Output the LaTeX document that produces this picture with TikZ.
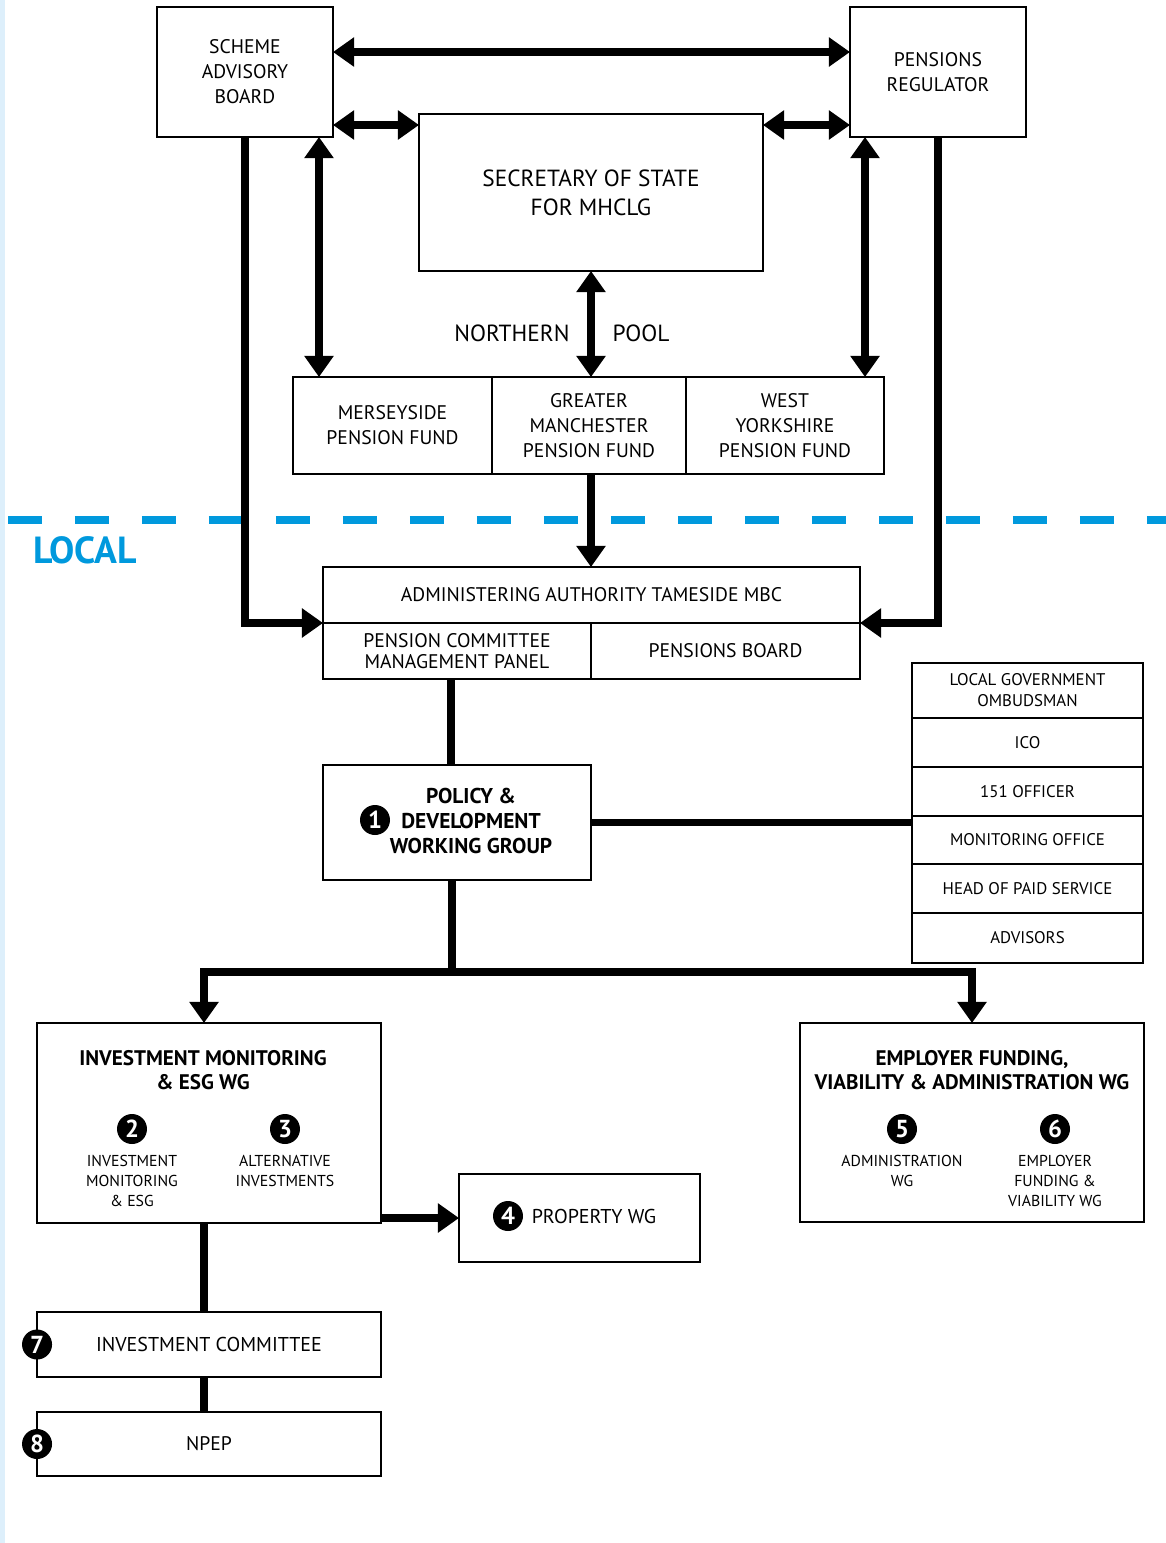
\documentclass[tikz,border=0pt]{standalone}
\usepackage{fontspec}
\setmainfont{PT Sans}
\usetikzlibrary{arrows.meta}
\definecolor{localblue}{RGB}{0,153,221}
\definecolor{edgeblue}{RGB}{221,239,251}
\begin{document}
\begin{tikzpicture}[%
      x=0.02cm, y=-0.02cm,
      box/.style={%
        draw          = black,
        line width    = 1.1pt,
        inner sep     = 0pt,
        outer sep     = 0pt,
        align         = center,
        font          = \fontsize{11.2}{14.2}\selectfont,
      },
      bigtext/.style={font=\fontsize{13.3}{16.4}\selectfont},
      sidetext/.style={font=\fontsize{9.6}{11.9}\selectfont},
      headtext/.style={align=center, font=\fontsize{12}{14}\selectfont\bfseries},
      subtext/.style={align=center, font=\fontsize{9}{11.3}\selectfont},
      num/.style={%
        circle,
        fill          = black,
        text          = white,
        minimum size  = 0.6cm,
        inner sep     = 0pt,
        font          = \fontsize{14}{14}\selectfont\bfseries,
      },
      link/.style={line width=4.3pt},
      arrow/.style={line width=4.3pt, -{Triangle[length=12pt,width=16pt]}},
      dblarrow/.style={line width=4.3pt, {Triangle[length=12pt,width=16pt]}-{Triangle[length=12pt,width=16pt]}},
      ]

      \useasboundingbox (0,0) rectangle (1166,1543);
      \fill[edgeblue] (0,0) rectangle (5,1543);

      \node[box, minimum width=3.52cm, minimum height=2.6cm] (SAB) at (245,72) {SCHEME \\ ADVISORY \\ BOARD};
      \node[box, minimum width=3.52cm, minimum height=2.6cm] (PR) at (938,72) {PENSIONS \\ REGULATOR};
      \node[box, bigtext, minimum width=6.88cm, minimum height=3.14cm] (SoS) at (591,192.5) {SECRETARY OF STATE \\ FOR MHCLG};

      \node[bigtext] (Northern) at (512,333) {NORTHERN};
      \node[bigtext] (Pool) at (641,333) {POOL};

      \node[box, minimum width=3.98cm, minimum height=1.94cm] (Mers) at (392.5,425.5) {MERSEYSIDE \\ PENSION FUND};
      \node[box, minimum width=3.88cm, minimum height=1.94cm] (GM) at (589,425.5) {GREATER \\ MANCHESTER \\ PENSION FUND};
      \node[box, minimum width=3.96cm, minimum height=1.94cm] (WY) at (785,425.5) {WEST \\ YORKSHIRE \\ PENSION FUND};

      \draw[localblue, line width=5pt, dash pattern=on 0.68cm off 0.66cm] (8,520) -- (1166,520);
      \node[text=localblue, font=\fontsize{21.5}{22}\selectfont\bfseries] (Local) at (85,550) {LOCAL};

      \node[box, minimum width=10.74cm, minimum height=1.12cm] (Admin) at (591.5,595) {ADMINISTERING AUTHORITY TAMESIDE MBC};
      \node[box, minimum width=5.36cm, minimum height=1.12cm, font=\fontsize{11.2}{11.9}\selectfont] (PCMP) at (457,651) {PENSION COMMITTEE \\ MANAGEMENT PANEL};
      \node[box, minimum width=5.38cm, minimum height=1.12cm] (PB) at (725.5,651) {PENSIONS BOARD};

      \node[box, minimum width=5.36cm, minimum height=2.3cm] (Policy) at (457,822.5) {};
      \node[headtext, font=\fontsize{12.2}{14}\selectfont\bfseries] (PolicyText) at (471,821) {POLICY \& \\ DEVELOPMENT \\ WORKING GROUP};
      \node[num] (N1) at (375,820) {1};

      \node[box, sidetext, minimum width=4.62cm, minimum height=1.1cm] (LGO) at (1027.5,690.5) {LOCAL GOVERNMENT \\ OMBUDSMAN};
      \node[box, sidetext, minimum width=4.62cm, minimum height=0.98cm] (ICO) at (1027.5,742.5) {ICO};
      \node[box, sidetext, minimum width=4.62cm, minimum height=0.98cm] (Officer) at (1027.5,791.5) {151 OFFICER};
      \node[box, sidetext, minimum width=4.62cm, minimum height=0.96cm] (Mon) at (1027.5,840) {MONITORING OFFICE};
      \node[box, sidetext, minimum width=4.62cm, minimum height=0.98cm] (Head) at (1027.5,888.5) {HEAD OF PAID SERVICE};
      \node[box, sidetext, minimum width=4.62cm, minimum height=1.0cm, line width=1.6pt] (Adv) at (1027.5,938) {ADVISORS};

      \node[box, minimum width=6.88cm, minimum height=4.0cm] (IM) at (209,1123) {};
      \node[headtext] (IMText) at (203,1070) {INVESTMENT MONITORING \\ \& ESG WG};
      \node[num] (N2) at (132,1129) {2};
      \node[num] (N3) at (285,1129) {3};
      \node[subtext, anchor=north] (IMsub) at (132,1149) {INVESTMENT \\ MONITORING \\ \& ESG};
      \node[subtext, anchor=north] (ALTsub) at (285,1149) {ALTERNATIVE \\ INVESTMENTS};

      \node[box, minimum width=6.88cm, minimum height=3.98cm] (EF) at (972,1122.5) {};
      \node[headtext] (EFText) at (972,1070) {EMPLOYER FUNDING, \\ VIABILITY \& ADMINISTRATION WG};
      \node[num] (N5) at (902,1129) {5};
      \node[num] (N6) at (1055,1129) {6};
      \node[subtext, anchor=north] (ADMsub) at (902,1149) {ADMINISTRATION \\ WG};
      \node[subtext, anchor=north] (EMPsub) at (1055,1149) {EMPLOYER \\ FUNDING \& \\ VIABILITY WG};

      \node[box, minimum width=4.82cm, minimum height=1.76cm] (PWG) at (579.5,1218) {};
      \node[num] (N4) at (508,1216) {4};
      \node[font=\fontsize{11.4}{13}\selectfont] (PWGText) at (594,1216) {PROPERTY WG};

      \node[box, minimum width=6.88cm, minimum height=1.3cm, font=\fontsize{11.4}{13}\selectfont] (IC) at (209,1344.5) {INVESTMENT COMMITTEE};
      \node[num] (N7) at (IC.west) {7};
      \node[box, minimum width=6.88cm, minimum height=1.28cm] (NPEP) at (209,1444) {NPEP};
      \node[num] (N8) at (NPEP.west) {8};

      \coordinate (fork) at (457,972);

      \draw[dblarrow] ([yshift=0.4cm]SAB.east) -- ([yshift=0.4cm]PR.west);
      \draw[dblarrow] ([yshift=-1.06cm]SAB.east) -- ([yshift=-1.06cm]SAB.east -| SoS.west);
      \draw[dblarrow] ([yshift=-1.06cm]PR.west) -- ([yshift=-1.06cm]PR.west -| SoS.east);
      \draw[dblarrow] ([xshift=1.48cm]SAB.south) -- ([xshift=1.48cm]SAB.south |- Mers.north);
      \draw[dblarrow] ([xshift=-1.46cm]PR.south) -- ([xshift=-1.46cm]PR.south |- WY.north);
      \draw[dblarrow] (SoS.south) -- (SoS.south |- GM.north);

      \draw[arrow] (SoS.south |- GM.south) -- (SoS.south |- Admin.north);
      \draw[arrow] (SAB.south) |- (Admin.south west);
      \draw[arrow] (PR.south) |- (Admin.south east);

      \draw[link] ([xshift=-0.12cm]PCMP.south) -- ([xshift=-0.12cm]Policy.north);
      \draw[link] (Policy.east) -- (Policy.east -| Mon.west);
      \draw[link] ([xshift=-0.1cm]Policy.south) -- ([xshift=-0.1cm]fork);
      \draw[arrow] (fork) -| ([xshift=-0.1cm]IM.north);
      \draw[arrow] (fork) -| (EF.north);
      \draw[arrow] (IM.south east |- PWG.west) -- (PWG.west);
      \draw[link] ([xshift=-0.1cm]IM.south) -- ([xshift=-0.1cm]IC.north);
      \draw[link] ([xshift=-0.1cm]IC.south) -- ([xshift=-0.1cm]NPEP.north);

    \end{tikzpicture}
\end{document}
